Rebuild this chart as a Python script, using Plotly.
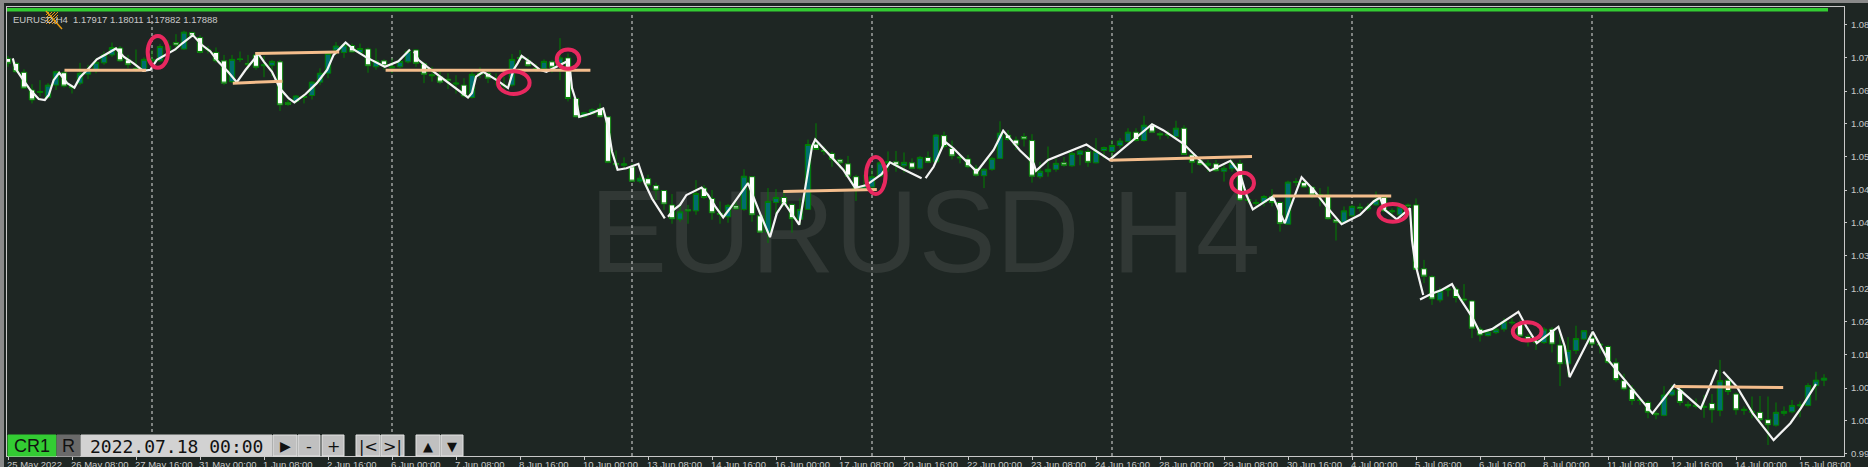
import plotly.graph_objects as go

# candle bodies, wicks (one row = 10 bars)
body_top = [
    1.0732,1.0722,1.0704,1.0668,1.0665,1.0678,1.0705,1.0703,1.0675,1.0702,
    1.0709,1.0724,1.0739,1.0754,1.0753,1.0729,1.0712,1.0730,1.0730,1.0756,
    1.0757,1.0764,1.0785,1.0784,1.0774,1.0750,1.0744,1.0727,1.0730,1.0731,
    1.0722,1.0739,1.0719,1.0726,1.0725,1.0643,1.0656,1.0655,1.0684,1.0702,
    1.0742,1.0757,1.0759,1.0758,1.0752,1.0751,1.0727,1.0727,1.0715,1.0726,
    1.0746,1.0749,1.0721,1.0699,1.0695,1.0690,1.0682,1.0678,1.0700,1.0702,
    1.0702,1.0692,1.0678,1.0730,1.0734,1.0727,1.0712,1.0726,1.0725,1.0733,
    1.0733,1.0651,1.0622,1.0628,1.0631,1.0614,1.0520,1.0519,1.0513,1.0490,
    1.0489,1.0475,1.0465,1.0436,1.0422,1.0426,1.0459,1.0470,1.0449,1.0419,
    1.0435,1.0434,1.0494,1.0493,1.0414,1.0443,1.0451,1.0451,1.0437,1.0427,
    1.0558,1.0559,1.0547,1.0540,1.0527,1.0519,1.0493,1.0474,1.0493,1.0521,
    1.0523,1.0523,1.0522,1.0521,1.0532,1.0532,1.0577,1.0576,1.0550,1.0533,
    1.0529,1.0510,1.0508,1.0530,1.0581,1.0577,1.0567,1.0574,1.0566,1.0504,
    1.0508,1.0520,1.0521,1.0540,1.0545,1.0544,1.0544,1.0552,1.0556,1.0565,
    1.0583,1.0583,1.0597,1.0597,1.0580,1.0579,1.0591,1.0591,1.0537,1.0525,
    1.0520,1.0519,1.0510,1.0520,1.0520,1.0447,1.0441,1.0453,1.0453,1.0441,
    1.0482,1.0483,1.0481,1.0472,1.0457,1.0456,1.0406,1.0424,1.0433,1.0432,
    1.0432,1.0446,1.0451,1.0424,1.0432,1.0436,1.0436,1.0307,1.0291,1.0262,
    1.0266,1.0266,1.0246,1.0242,1.0185,1.0179,1.0185,1.0200,1.0199,1.0196,
    1.0170,1.0162,1.0185,1.0185,1.0153,1.0142,1.0166,1.0182,1.0167,1.0155,
    1.0150,1.0117,1.0081,1.0064,1.0042,1.0037,1.0015,1.0052,1.0062,1.0062,
    1.0033,1.0031,1.0029,1.0035,1.0081,1.0082,1.0054,1.0023,1.0019,1.0017,
    1.0002,1.0017,1.0019,1.0031,1.0032,1.0071,1.0082,1.0086,
]
body_bottom = [
    1.0722,1.0705,1.0672,1.0648,1.0663,1.0653,1.0678,1.0676,1.0673,1.0682,
    1.0700,1.0709,1.0723,1.0739,1.0727,1.0719,1.0710,1.0709,1.0727,1.0727,
    1.0749,1.0759,1.0751,1.0777,1.0744,1.0749,1.0727,1.0682,1.0685,1.0730,
    1.0719,1.0714,1.0717,1.0718,1.0638,1.0639,1.0645,1.0653,1.0657,1.0684,
    1.0702,1.0749,1.0744,1.0745,1.0744,1.0717,1.0715,1.0717,1.0713,1.0715,
    1.0725,1.0722,1.0700,1.0697,1.0684,1.0688,1.0680,1.0656,1.0653,1.0700,
    1.0692,1.0690,1.0677,1.0678,1.0732,1.0717,1.0711,1.0711,1.0714,1.0722,
    1.0651,1.0614,1.0614,1.0620,1.0614,1.0522,1.0517,1.0516,1.0484,1.0484,
    1.0476,1.0466,1.0438,1.0408,1.0407,1.0424,1.0424,1.0451,1.0420,1.0417,
    1.0412,1.0428,1.0427,1.0416,1.0381,1.0381,1.0441,1.0438,1.0408,1.0407,
    1.0427,1.0548,1.0544,1.0528,1.0521,1.0494,1.0468,1.0468,1.0472,1.0494,
    1.0521,1.0516,1.0515,1.0510,1.0510,1.0522,1.0523,1.0554,1.0535,1.0531,
    1.0513,1.0496,1.0495,1.0508,1.0530,1.0568,1.0557,1.0569,1.0494,1.0493,
    1.0503,1.0508,1.0516,1.0515,1.0538,1.0522,1.0521,1.0546,1.0544,1.0556,
    1.0564,1.0566,1.0566,1.0583,1.0577,1.0577,1.0574,1.0538,1.0522,1.0518,
    1.0516,1.0505,1.0504,1.0509,1.0446,1.0445,1.0439,1.0441,1.0441,1.0398,
    1.0397,1.0482,1.0472,1.0456,1.0456,1.0408,1.0401,1.0401,1.0414,1.0429,
    1.0428,1.0436,1.0424,1.0422,1.0416,1.0434,1.0306,1.0292,1.0246,1.0244,
    1.0264,1.0249,1.0244,1.0187,1.0173,1.0172,1.0178,1.0185,1.0198,1.0171,
    1.0163,1.0158,1.0158,1.0155,1.0115,1.0115,1.0142,1.0165,1.0155,1.0153,
    1.0118,1.0083,1.0064,1.0041,1.0041,1.0017,1.0012,1.0011,1.0052,1.0037,
    1.0030,1.0029,1.0027,1.0022,1.0021,1.0059,1.0022,1.0021,1.0017,1.0002,
    0.9992,0.9991,1.0015,1.0018,1.0030,1.0031,1.0071,1.0082,
]
highs = [
    1.0737,1.0725,1.0710,1.0680,1.0688,1.0682,1.0707,1.0707,1.0678,1.0723,
    1.0719,1.0732,1.0746,1.0764,1.0757,1.0739,1.0750,1.0734,1.0749,1.0761,
    1.0769,1.0781,1.0788,1.0786,1.0779,1.0757,1.0754,1.0739,1.0739,1.0746,
    1.0739,1.0742,1.0737,1.0729,1.0729,1.0648,1.0658,1.0656,1.0686,1.0712,
    1.0746,1.0765,1.0762,1.0762,1.0762,1.0754,1.0752,1.0730,1.0732,1.0732,
    1.0750,1.0750,1.0725,1.0715,1.0709,1.0702,1.0698,1.0692,1.0705,1.0714,
    1.0705,1.0702,1.0695,1.0741,1.0749,1.0734,1.0721,1.0730,1.0729,1.0773,
    1.0742,1.0653,1.0624,1.0631,1.0641,1.0616,1.0546,1.0532,1.0520,1.0497,
    1.0497,1.0481,1.0466,1.0458,1.0440,1.0436,1.0486,1.0476,1.0466,1.0443,
    1.0438,1.0443,1.0508,1.0494,1.0418,1.0470,1.0468,1.0463,1.0439,1.0449,
    1.0568,1.0601,1.0554,1.0544,1.0530,1.0535,1.0497,1.0497,1.0510,1.0533,
    1.0544,1.0545,1.0542,1.0530,1.0535,1.0544,1.0579,1.0584,1.0566,1.0537,
    1.0537,1.0517,1.0510,1.0533,1.0605,1.0587,1.0574,1.0581,1.0579,1.0523,
    1.0554,1.0530,1.0533,1.0544,1.0547,1.0550,1.0571,1.0554,1.0567,1.0571,
    1.0591,1.0591,1.0616,1.0601,1.0584,1.0587,1.0606,1.0597,1.0538,1.0532,
    1.0527,1.0527,1.0520,1.0527,1.0527,1.0456,1.0447,1.0456,1.0468,1.0443,
    1.0485,1.0490,1.0488,1.0473,1.0470,1.0473,1.0409,1.0433,1.0436,1.0439,
    1.0439,1.0463,1.0456,1.0429,1.0436,1.0439,1.0449,1.0325,1.0294,1.0269,
    1.0274,1.0271,1.0276,1.0244,1.0190,1.0183,1.0194,1.0207,1.0207,1.0204,
    1.0175,1.0167,1.0189,1.0189,1.0180,1.0169,1.0192,1.0183,1.0180,1.0157,
    1.0153,1.0126,1.0095,1.0072,1.0045,1.0041,1.0019,1.0070,1.0072,1.0072,
    1.0039,1.0045,1.0052,1.0054,1.0123,1.0088,1.0057,1.0029,1.0049,1.0050,
    1.0049,1.0037,1.0029,1.0042,1.0039,1.0076,1.0099,1.0094,
]
lows = [
    1.0715,1.0703,1.0670,1.0641,1.0655,1.0651,1.0668,1.0673,1.0661,1.0678,
    1.0690,1.0702,1.0719,1.0735,1.0725,1.0712,1.0705,1.0705,1.0722,1.0725,
    1.0742,1.0748,1.0749,1.0775,1.0742,1.0742,1.0723,1.0678,1.0682,1.0725,
    1.0709,1.0709,1.0694,1.0696,1.0626,1.0636,1.0641,1.0641,1.0649,1.0678,
    1.0692,1.0739,1.0733,1.0744,1.0741,1.0703,1.0709,1.0709,1.0702,1.0712,
    1.0722,1.0715,1.0682,1.0685,1.0680,1.0670,1.0661,1.0653,1.0651,1.0692,
    1.0682,1.0678,1.0668,1.0675,1.0725,1.0715,1.0705,1.0705,1.0703,1.0688,
    1.0645,1.0613,1.0613,1.0618,1.0613,1.0520,1.0508,1.0510,1.0482,1.0480,
    1.0465,1.0446,1.0426,1.0398,1.0402,1.0398,1.0416,1.0448,1.0406,1.0398,
    1.0400,1.0426,1.0424,1.0402,1.0379,1.0359,1.0416,1.0433,1.0380,1.0396,
    1.0426,1.0547,1.0537,1.0513,1.0510,1.0492,1.0444,1.0465,1.0456,1.0492,
    1.0503,1.0503,1.0501,1.0508,1.0507,1.0520,1.0520,1.0550,1.0528,1.0520,
    1.0510,1.0493,1.0470,1.0505,1.0529,1.0566,1.0547,1.0554,1.0481,1.0489,
    1.0493,1.0503,1.0513,1.0513,1.0516,1.0513,1.0520,1.0530,1.0530,1.0550,
    1.0562,1.0564,1.0564,1.0581,1.0568,1.0570,1.0570,1.0537,1.0500,1.0515,
    1.0503,1.0503,1.0483,1.0503,1.0443,1.0439,1.0433,1.0433,1.0433,1.0382,
    1.0396,1.0474,1.0470,1.0449,1.0433,1.0406,1.0364,1.0399,1.0412,1.0422,
    1.0424,1.0434,1.0422,1.0412,1.0411,1.0422,1.0305,1.0278,1.0234,1.0239,
    1.0251,1.0239,1.0234,1.0167,1.0160,1.0170,1.0175,1.0180,1.0194,1.0167,
    1.0150,1.0143,1.0155,1.0138,1.0070,1.0089,1.0135,1.0163,1.0151,1.0136,
    1.0115,1.0079,1.0061,1.0032,1.0032,1.0005,1.0003,1.0009,1.0049,1.0031,
    1.0025,1.0025,1.0006,0.9996,1.0009,1.0052,1.0012,1.0012,1.0005,0.9998,
    0.9951,0.9988,1.0010,1.0015,1.0007,1.0029,1.0041,1.0070,
]
bull_bars = [4,5,6,9,10,11,12,13,17,18,19,20,22,25,28,32,33,36,38,39,40,41,42,44,46,48,49,50,
             56,58,61,63,67,69,72,73,77,79,84,86,90,92,95,96,99,100,107,108,109,110,112,114,116,
             122,123,124,129,130,131,133,134,136,137,138,139,140,142,146,150,152,153,156,157,160,
             164,167,168,170,171,173,174,179,180,185,186,187,192,195,196,197,204,207,208,211,212,
             214,217,218,221,222,223,224,225,226,227]

# the hand drawn white line, None = pen lifted
line_bar = [0.6,0.92,1.75,2.8,3.84,4.6,5.1,5.7,6.4,7.4,8.3,9.0,10.1,11.1,12.2,13.5,14.5,15.7,16.9,17.8,
            18.6,19.9,20.9,21.75,23.1,24.25,25.3,26.3,27.5,28.6,29.7,31.3,32,33,34,35.1,35.8,37.2,38.6,39.9,
            40.7,42.2,43.2,44.8,47.1,48.8,50.25,None,50.75,51.3,52.4,54,55.9,57.5,58,58.5,59.4,61.1,62.5,63.2,
            63.7,64.2,65.5,66.5,67.3,68.2,69.8,70.25,70.5,71.1,71.4,72.75,74.4,75,75.5,76.2,77.3,78.8,79.6,80.5,
            82.1,None,82.5,83.2,84,84.8,86.7,87.5,88.4,89.4,90.25,92.5,94,95.25,96.1,97,98.9,99.8,100.5,100.9,
            102.3,104.4,105.9,107.3,109.2,110.25,111.9,114.2,None,114.7,115.7,117.1,118.2,121.1,123.2,124.4,125.25,126.5,
            128.2,128.5,130,131.9,134.8,137.7,143,144.4,146.9,148.6,150.25,152.8,154,154.8,155.6,158.1,159.6,160.25,
            161.7,163.2,164.8,166.7,169,170.7,171.5,172.1,173.6,175.25,175.5,175.9,176.9,None,176.5,178,179.2,180.5,
            181.5,183,184,185.5,188.8,189.8,191.1,193.8,194.6,195.2,198.1,200,202.05,204,205.55,208.3,211.6,212.3,213.6,
            None,214.4,216.1,218.1,220.7,222.8,224.1,226]
line_price = [1.0732,1.0712,1.0692,1.0668,1.0650,1.0648,1.0658,1.0688,1.0703,1.0682,1.0673,1.0694,1.0712,1.0730,1.0740,1.0752,1.0735,1.0722,1.0707,1.0709,
              1.0729,1.0740,1.0750,1.0762,1.0779,1.0759,1.0746,1.0725,1.0705,1.0684,1.0709,1.0741,1.0725,1.0705,1.0671,1.0651,1.0643,1.0660,1.0682,1.0709,
              1.0739,1.0764,1.0750,1.0734,1.0715,1.0726,1.0750,None,1.0746,1.0729,1.0715,1.0695,1.0672,1.0653,1.0662,1.0695,1.0705,1.0688,1.0672,1.0709,
              1.0722,1.0737,1.0722,1.0709,1.0705,1.0712,1.0725,1.0709,1.0672,1.0641,1.0614,1.0620,1.0631,1.0594,1.0544,1.0507,1.0510,1.0519,1.0480,1.0449,
              1.0409,None,1.0412,1.0426,1.0436,1.0456,1.0471,1.0456,1.0433,1.0411,1.0429,1.0480,1.0419,1.0371,1.0419,1.0441,1.0396,1.0486,1.0554,1.0568,
              1.0544,1.0507,1.0470,1.0476,1.0498,1.0522,1.0508,1.0490,None,1.0490,1.0513,1.0564,1.0550,1.0503,1.0547,1.0586,1.0570,1.0546,
              1.0520,1.0505,1.0527,1.0539,1.0558,1.0527,1.0599,1.0587,1.0560,1.0533,1.0505,1.0525,1.0500,1.0456,1.0427,1.0453,1.0399,1.0429,
              1.0492,1.0466,1.0433,1.0397,1.0416,1.0443,1.0451,1.0426,1.0407,1.0429,1.0365,1.0318,1.0254,None,1.0245,1.0257,1.0264,1.0276,
              1.0247,1.0210,1.0178,1.0185,1.0220,1.0190,1.0157,1.0190,1.0150,1.0088,1.0180,1.0123,1.0083,1.0045,1.0015,1.0072,1.0025,1.0052,1.0103,
              None,1.0099,1.0069,1.0015,0.9961,0.9995,1.0025,1.0074]

# orange levels
level_bar0 = [7.06,30.9,28.1,47.2,96.9,137.7,158.1,208.3]
level_bar1 = [17.25,41.4,34.3,72.8,108.6,155.5,172.9,221.9]
level_price0 = [1.0708,1.0742,1.0682,1.0708,1.0463,1.0526,1.0454,1.0069]
level_price1 = [1.0708,1.0745,1.0686,1.0708,1.0467,1.0534,1.0454,1.0067]

# pink circles
ring_bar0 = [17.46,61.25,68.6,107.25,152.9,171.3,188.1]
ring_bar1 = [20.0,65.2,71.4,109.7,155.75,174.9,191.7]
ring_top = [1.0777,1.0706,1.0750,1.0533,1.0501,1.0438,1.0199]
ring_bottom = [1.0713,1.0660,1.0711,1.0458,1.0460,1.0402,1.0162]

period_bars = [18,48,78,108,138,168,198]
price_ticks = [0.9933,1.0,1.0066,1.0133,1.02,1.0266,1.0333,1.04,1.0466,1.0533,1.06,1.0666,1.0733,1.08]
time_labels = ["25 May 2022","26 May 08:00","27 May 16:00","31 May 00:00","1 Jun 08:00","2 Jun 16:00",
               "6 Jun 00:00","7 Jun 08:00","8 Jun 16:00","10 Jun 00:00","13 Jun 08:00","14 Jun 16:00",
               "16 Jun 00:00","17 Jun 08:00","20 Jun 16:00","22 Jun 00:00","23 Jun 08:00","24 Jun 16:00",
               "28 Jun 00:00","29 Jun 08:00","30 Jun 16:00","4 Jul 00:00","5 Jul 08:00","6 Jul 16:00",
               "8 Jul 00:00","11 Jul 08:00","12 Jul 16:00","14 Jul 00:00","15 Jul 08:00"]
time_ticks = [i * 8 for i in range(len(time_labels))]

W, H = 1868, 467
L, R, T, B = 7, 1844, 7, 456
BG = "#1e2623"
TXT = "#c8c8c8"
LABEL_FONT = dict(family="Liberation Sans", size=9.5, color=TXT)


def px(x):
    return (x - L) / (R - L)


def py(y):
    return (B - y) / (B - T)


bars = list(range(len(highs)))
opens = [body_bottom[i] if i in bull_bars else body_top[i] for i in bars]
closes = [body_top[i] if i in bull_bars else body_bottom[i] for i in bars]

fig = go.Figure()
fig.add_trace(go.Candlestick(
    x=bars, open=opens, high=highs, low=lows, close=closes,
    whiskerwidth=0,
    increasing=dict(line=dict(color="#008000", width=1), fillcolor="#006e6e"),
    decreasing=dict(line=dict(color="#008000", width=1), fillcolor="#ffffff"),
    showlegend=False, hoverinfo="skip"))
fig.add_trace(go.Scatter(x=line_bar, y=line_price, mode="lines",
                         line=dict(color="#f4f4f4", width=2.2), connectgaps=False,
                         showlegend=False, hoverinfo="skip"))
for i in range(len(level_bar0)):
    fig.add_trace(go.Scatter(x=[level_bar0[i], level_bar1[i]], y=[level_price0[i], level_price1[i]],
                             mode="lines", line=dict(color="#f4bd8c", width=3),
                             showlegend=False, hoverinfo="skip"))

shapes = []
# watermark sits under the candles
shapes.append(dict(type="rect", xref="paper", yref="paper", x0=px(560), x1=px(1290), y0=py(276), y1=py(166),
                   line=dict(width=0), layer="below",
                   label=dict(text="EURUSD H4", textposition="middle center",
                              font=dict(family="Liberation Sans", size=116, color="#313835"))))
for b in period_bars:
    shapes.append(dict(type="line", xref="x", yref="paper", x0=b, x1=b, y0=0, y1=py(15), layer="below",
                       line=dict(color="#e0e0e0", width=1, dash="3px,3px")))
for i in range(len(ring_bar0)):
    shapes.append(dict(type="circle", xref="x", yref="y", x0=ring_bar0[i], x1=ring_bar1[i],
                       y0=ring_bottom[i], y1=ring_top[i], line=dict(color="#e8285f", width=4)))

# window edge and the green bar on top
shapes.append(dict(type="rect", xref="paper", yref="paper", x0=px(7), x1=px(1828), y0=py(11.5), y1=py(8),
                   fillcolor="#33cc33", line=dict(width=0)))
shapes.append(dict(type="rect", xref="paper", yref="paper", x0=px(0), x1=px(W), y0=py(3), y1=py(0),
                   fillcolor="#8a8a8a", line=dict(width=0)))
shapes.append(dict(type="rect", xref="paper", yref="paper", x0=px(0), x1=px(4), y0=py(H), y1=py(0),
                   fillcolor="#8a8a8a", line=dict(width=0)))

# little chart-shift cross-hatch icon over the H4
for k in range(5):
    shapes.append(dict(type="line", xref="paper", yref="paper", x0=px(46 + k * 3), x1=px(46), y0=py(12),
                       y1=py(12 + k * 3), line=dict(color="#e89a10", width=1)))
    shapes.append(dict(type="line", xref="paper", yref="paper", x0=px(58), x1=px(46 + k * 3), y0=py(12 + k * 3),
                       y1=py(24), line=dict(color="#e89a10", width=1)))
shapes.append(dict(type="line", xref="paper", yref="paper", x0=px(46), x1=px(62), y0=py(11), y1=py(29),
                   line=dict(color="#e89a10", width=1.5)))

annotations = []
for b, t in zip(time_ticks, time_labels):
    annotations.append(dict(x=b - 0.1, y=0, xref="x", yref="paper", text=t, showarrow=False,
                            xanchor="left", yanchor="top", yshift=-1, xshift=-2, font=LABEL_FONT))
annotations.append(dict(x=px(11), y=py(12), xref="paper", yref="paper", text="EURUSD,H4", showarrow=False,
                        xanchor="left", yanchor="top", font=LABEL_FONT))
annotations.append(dict(x=px(71), y=py(12), xref="paper", yref="paper", text="1.17917 1.18011 1.17882 1.17888",
                        showarrow=False, xanchor="left", yanchor="top", font=LABEL_FONT))

# toolbar, bottom left of the chart
toolbar = [(8, 56, "#33cc33", "CR1", "Liberation Sans", 18),
           (57, 80, "#6a6a6a", "R", "Liberation Sans", 18),
           (81, 272, "#d2d2d2", "2022.07.18 00:00", "DejaVu Sans Mono", 18),
           (273, 297, "#c0c0c0", "▶", "DejaVu Sans", 14),
           (298, 320, "#c0c0c0", "-", "DejaVu Sans", 16),
           (322, 344, "#c0c0c0", "+", "DejaVu Sans", 16),
           (356, 380, "#c0c0c0", "|<", "DejaVu Sans", 16),
           (381, 404, "#c0c0c0", ">|", "DejaVu Sans", 16),
           (416, 440, "#c0c0c0", "▲", "DejaVu Sans", 13),
           (441, 463, "#c0c0c0", "▼", "DejaVu Sans", 13)]
for x0, x1, col, label, fam, size in toolbar:
    shapes.append(dict(type="rect", xref="paper", yref="paper", x0=px(x0), x1=px(x1), y0=py(456), y1=py(435),
                       fillcolor=col, line=dict(color="#e4e4e4" if col == "#c0c0c0" else col, width=1)))
    annotations.append(dict(x=px((x0 + x1) / 2), y=py(446), xref="paper", yref="paper", text=label,
                            showarrow=False, xanchor="center", yanchor="middle",
                            font=dict(family=fam, size=size, color="#111111")))

fig.update_layout(
    width=W, height=H, margin=dict(l=L, r=W - R, t=T, b=H - B, autoexpand=False),
    paper_bgcolor=BG, plot_bgcolor=BG, showlegend=False,
    boxgap=0.33, boxgroupgap=0,
    shapes=shapes, annotations=annotations,
    font=LABEL_FONT,
    xaxis=dict(range=[-0.125, 229.5], tickvals=time_ticks, ticktext=[""] * len(time_ticks), automargin=False,
               ticks="outside", ticklen=3, tickcolor=TXT, showgrid=False, zeroline=False,
               showline=True, linecolor=TXT, linewidth=1, mirror=True, rangeslider=dict(visible=False)),
    yaxis=dict(range=[0.99288, 1.08358], side="right", tickvals=price_ticks, tickformat=".5f", automargin=False,
               ticks="outside", ticklen=2, tickcolor=TXT, ticklabelstandoff=2, showgrid=False, zeroline=False,
               showline=True, linecolor=TXT, linewidth=1, mirror=True),
)

fig.write_html("out.html", config={"displayModeBar": False},
               post_script="document.body.style.margin='0';document.body.style.overflow='hidden';")
